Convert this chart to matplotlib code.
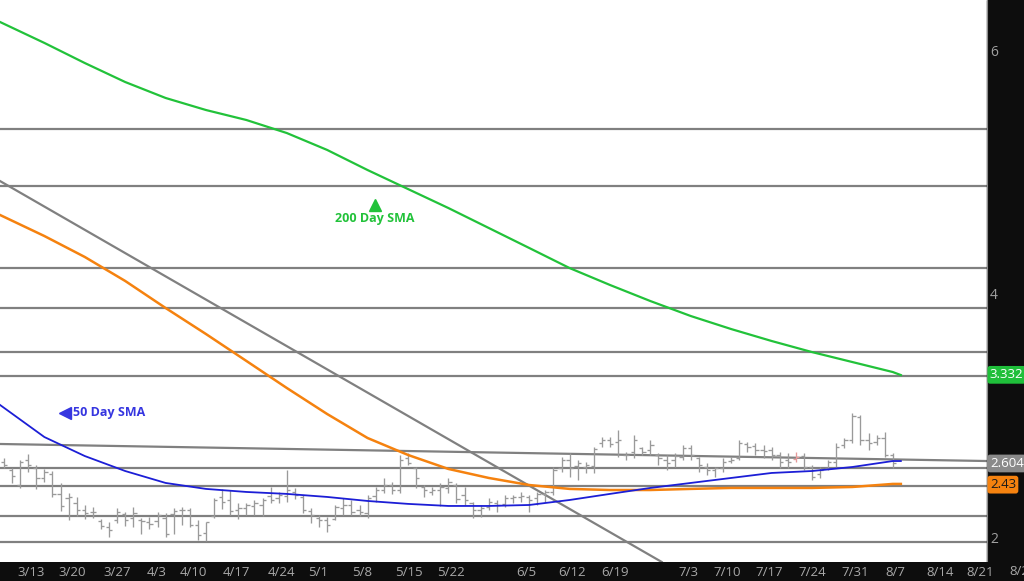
import matplotlib
matplotlib.use("Agg")
import matplotlib.pyplot as plt
import matplotlib.transforms as mtransforms
import numpy as np

plt.rcParams["font.family"] = ["Open Sans", "DejaVu Sans"]

# daily OHLC bars, one per trading session (index 0 = first visible bar)
bar_open = [2.616, 2.550, 2.427, 2.633, 2.567, 2.485, 2.518, 2.354, 2.321, 2.280,
            2.222, 2.206, 2.132, 2.083, 2.140, 2.190, 2.157, 2.140, 2.124, 2.132,
            2.157, 2.190, 2.222, 2.222, 2.099, 2.034, 2.173, 2.329, 2.304, 2.222,
            2.239, 2.255, 2.263, 2.337, 2.321, 2.337, 2.370, 2.329, 2.214, 2.157,
            2.140, 2.148, 2.239, 2.263, 2.222, 2.198, 2.337, 2.386, 2.427, 2.386,
            2.649, 2.567, 2.411, 2.370, 2.386, 2.403, 2.427, 2.345, 2.280, 2.222,
            2.247, 2.280, 2.272, 2.321, 2.329, 2.329, 2.321, 2.354, 2.370, 2.567,
            2.633, 2.583, 2.575, 2.583, 2.772, 2.797, 2.780, 2.674, 2.698, 2.731,
            2.715, 2.674, 2.633, 2.633, 2.657, 2.731, 2.649, 2.575, 2.550, 2.567,
            2.624, 2.649, 2.764, 2.747, 2.715, 2.715, 2.674, 2.633, 2.641, 2.665,
            2.575, 2.518, 2.567, 2.616, 2.756, 2.797, 2.986, 2.797, 2.780, 2.813,
            2.674]
bar_high = [2.649, 2.567, 2.633, 2.682, 2.591, 2.559, 2.542, 2.444, 2.362, 2.329,
            2.263, 2.247, 2.148, 2.124, 2.239, 2.206, 2.247, 2.157, 2.165, 2.206,
            2.198, 2.239, 2.247, 2.239, 2.140, 2.124, 2.321, 2.395, 2.386, 2.280,
            2.280, 2.304, 2.321, 2.411, 2.370, 2.550, 2.403, 2.345, 2.239, 2.181,
            2.165, 2.263, 2.321, 2.304, 2.263, 2.345, 2.411, 2.485, 2.452, 2.674,
            2.690, 2.575, 2.427, 2.411, 2.444, 2.485, 2.444, 2.411, 2.288, 2.263,
            2.321, 2.304, 2.345, 2.345, 2.370, 2.345, 2.370, 2.386, 2.575, 2.657,
            2.690, 2.633, 2.616, 2.739, 2.821, 2.821, 2.879, 2.698, 2.838, 2.739,
            2.797, 2.690, 2.674, 2.690, 2.756, 2.756, 2.657, 2.608, 2.575, 2.649,
            2.657, 2.797, 2.780, 2.772, 2.756, 2.739, 2.698, 2.690, 2.698, 2.690,
            2.591, 2.575, 2.633, 2.772, 2.813, 3.018, 3.002, 2.854, 2.838, 2.862,
            2.690]
bar_low = [2.567, 2.444, 2.403, 2.534, 2.395, 2.452, 2.329, 2.214, 2.140, 2.173,
           2.148, 2.157, 2.066, 2.001, 2.116, 2.091, 2.083, 2.025, 2.066, 2.083,
           2.001, 2.025, 2.099, 2.083, 1.976, 1.968, 2.157, 2.231, 2.181, 2.148,
           2.181, 2.181, 2.173, 2.280, 2.280, 2.288, 2.313, 2.198, 2.116, 2.083,
           2.042, 2.140, 2.181, 2.181, 2.173, 2.157, 2.288, 2.362, 2.354, 2.362,
           2.591, 2.403, 2.329, 2.345, 2.255, 2.362, 2.280, 2.263, 2.157, 2.165,
           2.222, 2.206, 2.247, 2.280, 2.288, 2.206, 2.263, 2.288, 2.345, 2.534,
           2.493, 2.468, 2.526, 2.526, 2.739, 2.739, 2.657, 2.633, 2.649, 2.674,
           2.674, 2.591, 2.550, 2.575, 2.633, 2.633, 2.534, 2.509, 2.493, 2.534,
           2.608, 2.633, 2.698, 2.674, 2.649, 2.633, 2.567, 2.567, 2.616, 2.550,
           2.468, 2.485, 2.550, 2.575, 2.731, 2.772, 2.756, 2.715, 2.756, 2.657,
           2.567]
bar_close = [2.591, 2.501, 2.616, 2.591, 2.485, 2.534, 2.354, 2.255, 2.329, 2.222,
             2.198, 2.206, 2.091, 2.058, 2.206, 2.140, 2.198, 2.132, 2.107, 2.181,
             2.025, 2.214, 2.222, 2.099, 2.017, 2.124, 2.304, 2.288, 2.214, 2.239,
             2.263, 2.280, 2.304, 2.304, 2.345, 2.386, 2.345, 2.222, 2.181, 2.140,
             2.099, 2.247, 2.263, 2.206, 2.206, 2.321, 2.386, 2.427, 2.386, 2.633,
             2.608, 2.485, 2.386, 2.386, 2.411, 2.452, 2.313, 2.304, 2.222, 2.239,
             2.288, 2.263, 2.321, 2.329, 2.337, 2.304, 2.354, 2.370, 2.550, 2.633,
             2.567, 2.608, 2.591, 2.723, 2.797, 2.764, 2.797, 2.674, 2.797, 2.698,
             2.756, 2.649, 2.608, 2.665, 2.731, 2.674, 2.591, 2.550, 2.567, 2.616,
             2.633, 2.772, 2.739, 2.715, 2.706, 2.674, 2.616, 2.616, 2.657, 2.575,
             2.493, 2.550, 2.616, 2.739, 2.797, 2.994, 2.797, 2.772, 2.813, 2.674,
             2.608]
red_bar = 98

# moving averages, sampled every five sessions
sma_idx = [-1, 5, 10, 15, 20, 25, 30, 35, 40, 45, 50, 55, 60, 65, 70, 75, 80,
           85, 90, 95, 100, 105, 110, 111]
sma200 = [6.246, 6.058, 5.893, 5.737, 5.606, 5.507, 5.425, 5.318, 5.179, 5.014,
          4.858, 4.702, 4.538, 4.374, 4.209, 4.070, 3.938, 3.815, 3.708, 3.610,
          3.519, 3.437, 3.355, 3.330]
sma100 = [4.661, 4.472, 4.300, 4.103, 3.881, 3.667, 3.446, 3.224, 3.010, 2.813,
          2.674, 2.559, 2.485, 2.427, 2.395, 2.386, 2.386, 2.395, 2.403, 2.403,
          2.403, 2.411, 2.436, 2.436]
sma50 = [3.109, 2.821, 2.665, 2.542, 2.444, 2.395, 2.370, 2.354, 2.329, 2.296,
         2.272, 2.255, 2.255, 2.263, 2.304, 2.354, 2.403, 2.444, 2.485, 2.526,
         2.542, 2.575, 2.624, 2.624]

# drawn support / resistance levels and trend lines
levels = [5.349, 4.885, 4.209, 3.881, 3.522, 3.322, 2.564, 2.421, 2.173, 1.961]
trend_a = ([-0.5, 121.7], [2.764, 2.624])
trend_b = ([-0.5, 81.4], [4.924, 1.795])

date_labels = ["3/13", "3/20", "3/27", "4/3", "4/10", "4/17", "4/24", "5/1", "5/8",
               "5/15", "5/22", "6/5", "6/12", "6/19", "7/3", "7/10", "7/17", "7/24",
               "7/31", "8/7", "8/14", "8/21", "8/28"]
date_pos = [3.3, 8.5, 14.0, 18.9, 23.4, 28.8, 34.3, 38.9, 44.3, 50.1, 55.3, 64.6,
            70.3, 75.6, 84.7, 89.5, 94.7, 100.0, 105.3, 110.3, 115.8, 120.8, 126.1]

last_values = [3.332, 2.604, 2.43]
last_colors = ["#1fbf3a", "#8a8a8a", "#f5820f"]
last_text = ["white", "white", "#1a1a1a"]

PANEL = "#0d0d0d"
LEVEL = "#808080"
BAR = "#9a9a9a"
GREEN = "#22c23a"
ORANGE = "#f5820f"
BLUE = "#1c1ed6"

fig = plt.figure(figsize=(10.24, 5.81), dpi=100, facecolor=PANEL)
ax = fig.add_axes([0, 19 / 581, 1, 562 / 581])
ax.set_facecolor("white")
x_left, x_right = -0.495, 126.24
panel_x = 121.66
ax.set_xlim(x_left, x_right)
ax.set_ylim(1.7947, 6.4107)

for lv in levels:
    ax.axhline(lv, color=LEVEL, linewidth=1.6, zorder=1)
ax.plot(*trend_a, color=LEVEL, linewidth=1.6, zorder=1)
ax.plot(*trend_b, color=LEVEL, linewidth=1.6, zorder=1)

x = np.arange(len(bar_open))
colors = [BAR] * len(x)
colors[red_bar] = "#e59a9a"
tick = 0.4
ax.vlines(x, bar_low, bar_high, colors=colors, linewidth=0.95, zorder=2)
ax.hlines(bar_open, x - tick, x, colors=colors, linewidth=0.95, zorder=2)
ax.hlines(bar_close, x, x + tick, colors=colors, linewidth=0.95, zorder=2)

ax.plot(sma_idx, sma200, color=GREEN, linewidth=1.6, zorder=3,
        solid_joinstyle="round")
ax.plot(sma_idx, sma100, color=ORANGE, linewidth=1.8, zorder=3,
        solid_joinstyle="round")
ax.plot(sma_idx, sma50, color=BLUE, linewidth=1.3, zorder=3,
        solid_joinstyle="round")

# annotations
ax.plot([45.9], [4.727], marker="^", markersize=8, color=GREEN, zorder=4)
ax.text(45.9, 4.62, "200 Day SMA", color=GREEN, fontsize=9, fontweight="bold",
        ha="center", va="center", zorder=4)
ax.plot([7.5], [3.019], marker="<", markersize=8, color="#3636e0", zorder=4)
ax.text(8.6, 3.019, "50 Day SMA", color="#3636e0", fontsize=9, fontweight="bold",
        ha="left", va="center", zorder=4)

# right price panel
ax.axvspan(panel_x, x_right, color=PANEL, zorder=5)
ax.axvline(panel_x, color="#8c8c8c", linewidth=0.8, zorder=6)
for val, bg, fg in zip(last_values, last_colors, last_text):
    ax.text(panel_x + 0.35, val, f"{val:g}", color=fg, fontsize=9.5, ha="left",
            va="center", zorder=7,
            bbox=dict(boxstyle="round,pad=0.18,rounding_size=0.2", fc=bg, ec="none"))

ax.yaxis.tick_right()
ax.set_yticks([2, 4, 6])
ax.set_yticklabels(["2", "4", "6"])
ax.tick_params(axis="y", length=0, pad=-24.5, labelsize=10, labelcolor="#a0a0a0")
ax.yaxis.set_zorder(8)

ax.set_xticks(date_pos[:-1])
ax.set_xticklabels(date_labels[:-1])
ax.tick_params(axis="x", length=0, pad=3, labelsize=9.5, labelcolor="#a8a8a8")
blend = mtransforms.blended_transform_factory(ax.transData, ax.transAxes)
ax.text(date_pos[-1], -0.006, date_labels[-1], transform=blend, ha="center",
        va="top", fontsize=9.5, color="#a8a8a8", clip_on=False)

for side in ax.spines.values():
    side.set_visible(False)

fig.savefig("out.png", dpi=100, facecolor=PANEL)
